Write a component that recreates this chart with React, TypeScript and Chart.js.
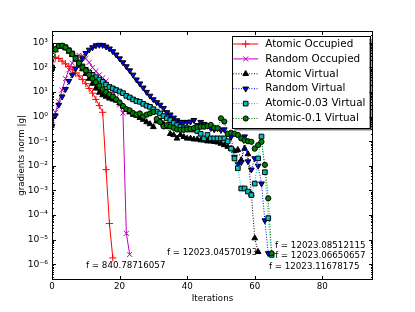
import React, { useEffect, useRef } from "react";
import { Chart, registerables } from "chart.js";

Chart.register(...registerables);

// ---- data (iteration index = array index) ----
const atomicOccupied = [170, 260, 230, 180, 140, 110, 80, 60, 45, 32, 22, 14, 9, 5, 2.8, 1.5, 0.007, 4.5e-5, 1.8e-6];
const randomOccupied = [0.45, 1.5, 4, 12, 35, 80, 150, 240, 310, 300, 230, 160, 100, 70, 50, 38, 28, 17, 10, 6, 3, 1.4, 1.8e-5, 2.5e-6];
const atomicVirtual = [
  90, 500, 700, 720, 600, 440, 320, 210, 135, 85,
  55, 35, 22, 14, 9.5, 7.5, 6.5, 5.5, 5, 4.5,
  3.5, 2.6, 1.9, 1.5, 1.2, 1.1, 0.9, 0.75, 0.6, 0.5,
  0.38, 0.65, 0.65, 0.5, 0.38, 0.2, 0.18, 0.13, 0.18, 0.15,
  0.13, 0.13, 0.12, 0.12, 0.11, 0.11, 0.1, 0.1, 0.095, 0.09,
  0.08, 0.07, 0.06, 0.05, 0.04, 0.045, 0.017, 0.05, 0.03, 7e-4,
  1.15e-5, 3.2e-6,
];
const randomVirtual = [
  0.4, 1.1, 3, 6.5, 13, 28, 50, 90, 140, 230,
  380, 520, 650, 780, 820, 800, 700, 580, 450, 330,
  230, 160, 110, 75, 50, 32, 22, 15, 10, 7,
  5, 3.8, 3, 2.2, 1.5, 1.2, 0.9, 0.7, 0.6, 0.6,
  0.6, 0.62, 0.72, 0.45, 0.6, 0.5, 0.42, 0.34, 0.3, 0.33,
  0.28, 0.3, 0.2, 0.15, 0.023, 0.012, 0.014, 0.155, 0.015, 0.007,
  0.02, 0.01, 0.0019, 6e-5, 2.8e-6,
];
const atomic003Virtual = [
  100, 550, 750, 760, 660, 500, 370, 250, 160, 110,
  80, 62, 50, 40, 32, 26, 20, 16, 14, 12,
  10.5, 9, 7, 6, 5, 4.3, 4, 3.3, 2.8, 2.5,
  2, 1.6, 1.35, 1.05, 0.85, 0.72, 0.55, 0.45, 0.38, 0.34,
  0.34, 0.3, 0.3, 0.26, 0.2, 0.13, 0.18, 0.13, 0.13, 0.13,
  0.13, 0.13, 0.1, 0.05, 0.02, 0.008, 0.0012, 0.0012, 9e-4, 6.5e-4,
  0.0019, 0.02, 0.155, 0.0055, 7.5e-5, 2.4e-6,
];
const atomic01Virtual = [
  100, 550, 750, 760, 650, 480, 350, 230, 150, 100,
  75, 50, 35, 25, 18, 13, 10, 8, 6.5, 5,
  3.8, 2.7, 2, 1.8, 1.4, 1.2, 1.35, 1.0, 1.2, 1.35,
  1.55, 0.8, 0.6, 0.4, 0.45, 0.4, 0.35, 0.3, 0.29, 0.29,
  0.3, 0.32, 0.34, 0.38, 0.39, 0.39, 0.42, 0.46, 0.35, 0.34,
  0.85, 0.63, 0.2, 0.22, 0.2, 0.18, 0.13, 0.11, 0.1, 0.095,
  0.05, 0.07, 0.095, 0.011, 4.8e-4, 2.8e-6,
];

const seriesNames = [
  "Atomic Occupied",
  "Random Occupied",
  "Atomic Virtual",
  "Random Virtual",
  "Atomic-0.03 Virtual",
  "Atomic-0.1 Virtual",
];
const seriesValues = [atomicOccupied, randomOccupied, atomicVirtual, randomVirtual, atomic003Virtual, atomic01Virtual];

const xTickValues = [0, 20, 40, 60, 80];
const yTickExponents = [-6, -5, -4, -3, -2, -1, 0, 1, 2, 3];

const finalTexts = [
  "f = 840.78716057",
  "f = 12023.04570193",
  "f = 12023.08512115",
  "f = 12023.06650657",
  "f = 12023.11678175",
];
const finalTextIter = [10.06, 34.0, 66.0, 66.0, 64.2];
const finalTextValue = [8.5e-7, 2.95e-6, 5.5e-6, 2.2e-6, 7.8e-7];

// ---- styles ----
const FONT = '"DejaVu Sans", "Liberation Sans", sans-serif';
const styles = [
  { color: "#ff0000", fill: "#ff0000", edge: "#ff0000", point: "cross", r: 3.6, rot: 0, dash: [] as number[] },
  { color: "#bf00bf", fill: "#bf00bf", edge: "#bf00bf", point: "crossRot", r: 3.6, rot: 0, dash: [] as number[] },
  { color: "#000000", fill: "#000000", edge: "#000000", point: "triangle", r: 3.3, rot: 0, dash: [1, 1.6] },
  { color: "#0000ff", fill: "#0000ff", edge: "#000000", point: "triangle", r: 3.3, rot: 180, dash: [1, 1.6] },
  { color: "#00bfbf", fill: "#00bfbf", edge: "#000000", point: "rect", r: 3.3, rot: 0, dash: [1, 1.6] },
  { color: "#008000", fill: "#008000", edge: "#000000", point: "circle", r: 2.6, rot: 0, dash: [1, 1.6] },
];

const SUP: Record<string, string> = {
  "-": "\u207B", "0": "\u2070", "1": "\u00B9", "2": "\u00B2", "3": "\u00B3",
  "4": "\u2074", "5": "\u2075", "6": "\u2076", "7": "\u2077", "8": "\u2078", "9": "\u2079",
};
const sup = (n: number) => String(n).split("").map((c) => SUP[c] || c).join("");

function drawMarker(ctx: CanvasRenderingContext2D, s: any, x: number, y: number) {
  const r = s.r;
  ctx.save();
  ctx.setLineDash([]);
  ctx.lineWidth = 1;
  ctx.strokeStyle = s.edge;
  ctx.fillStyle = s.fill;
  ctx.beginPath();
  if (s.point === "cross") {
    ctx.moveTo(x - r, y); ctx.lineTo(x + r, y);
    ctx.moveTo(x, y - r); ctx.lineTo(x, y + r);
    ctx.stroke();
  } else if (s.point === "crossRot") {
    const d = r * Math.SQRT1_2;
    ctx.moveTo(x - d, y - d); ctx.lineTo(x + d, y + d);
    ctx.moveTo(x + d, y - d); ctx.lineTo(x - d, y + d);
    ctx.stroke();
  } else if (s.point === "triangle") {
    const sgn = s.rot === 180 ? -1 : 1;
    ctx.moveTo(x, y - sgn * r);
    ctx.lineTo(x + r * 0.866, y + sgn * r * 0.5);
    ctx.lineTo(x - r * 0.866, y + sgn * r * 0.5);
    ctx.closePath();
    ctx.fill(); ctx.stroke();
  } else if (s.point === "rect") {
    const d = r * Math.SQRT1_2;
    ctx.rect(x - d, y - d, 2 * d, 2 * d);
    ctx.fill(); ctx.stroke();
  } else {
    ctx.arc(x, y, r, 0, Math.PI * 2);
    ctx.fill(); ctx.stroke();
  }
  ctx.restore();
}

const overlayPlugin = {
  id: "overlay",
  afterDatasetsDraw(chart: any) {
    const ctx: CanvasRenderingContext2D = chart.ctx;
    const { left, right, top, bottom } = chart.chartArea;
    const xs = chart.scales.x;
    const ys = chart.scales.y;
    ctx.save();
    ctx.strokeStyle = "#000";
    ctx.lineWidth = 1;
    ctx.setLineDash([]);
    ctx.strokeRect(left + 0.5, top + 0.5, right - left - 1, bottom - top - 1);
    ctx.beginPath();
    xTickValues.forEach((v) => {
      const px = Math.round(xs.getPixelForValue(v)) + 0.5;
      ctx.moveTo(px, bottom); ctx.lineTo(px, bottom - 4);
      ctx.moveTo(px, top); ctx.lineTo(px, top + 4);
    });
    const yMin = ys.min, yMax = ys.max;
    for (let e = -8; e <= 4; e++) {
      for (let m = 1; m <= 9; m++) {
        const v = m * Math.pow(10, e);
        if (v < yMin || v > yMax) continue;
        const py = Math.round(ys.getPixelForValue(v)) + 0.5;
        const len = m === 1 ? 4 : 2;
        ctx.moveTo(left, py); ctx.lineTo(left + len, py);
        ctx.moveTo(right, py); ctx.lineTo(right - len, py);
      }
    }
    ctx.stroke();

    // final-value annotations
    ctx.fillStyle = "#000";
    ctx.font = `8.7px ${FONT}`;
    ctx.textAlign = "left";
    ctx.textBaseline = "middle";
    finalTexts.forEach((t, i) => {
      ctx.fillText(t, xs.getPixelForValue(finalTextIter[i]), ys.getPixelForValue(finalTextValue[i]));
    });
    ctx.restore();
  },
  afterDraw(chart: any) {
    const ctx: CanvasRenderingContext2D = chart.ctx;
    const { right, top } = chart.chartArea;
    const w = 137.6, h = 92;
    const bx = right - 3.7 - w;
    const by = top + 5;
    ctx.save();
    ctx.fillStyle = "rgba(0,0,0,0.5)";
    ctx.fillRect(bx + 2.5, by + 2.5, w, h);
    ctx.fillStyle = "#fff";
    ctx.fillRect(bx, by, w, h);
    ctx.strokeStyle = "#000";
    ctx.lineWidth = 1;
    ctx.strokeRect(Math.round(bx) + 0.5, Math.round(by) + 0.5, Math.round(w), Math.round(h));
    ctx.font = `10.4px ${FONT}`;
    ctx.textAlign = "left";
    ctx.textBaseline = "middle";
    seriesNames.forEach((name, i) => {
      const s = styles[i];
      const y = by + 8 + i * 14.9;
      ctx.save();
      ctx.strokeStyle = s.color;
      ctx.lineWidth = 1;
      ctx.setLineDash(s.dash);
      ctx.beginPath();
      ctx.moveTo(bx + 1.5, y); ctx.lineTo(bx + 26.5, y);
      ctx.stroke();
      ctx.restore();
      drawMarker(ctx, s, bx + 14, y);
      ctx.fillStyle = "#000";
      ctx.fillText(name, bx + 33.5, y);
    });
    ctx.restore();
  },
};

export default function App() {
  const ref = useRef<HTMLCanvasElement | null>(null);
  useEffect(() => {
    if (!ref.current) return;
    const datasets = seriesValues.map((vals, i) => {
      const s = styles[i];
      return {
        label: seriesNames[i],
        data: vals.map((y, x) => ({ x, y })),
        borderColor: s.color,
        backgroundColor: s.fill,
        borderWidth: 1,
        borderDash: s.dash,
        pointStyle: s.point,
        pointRadius: s.r,
        pointRotation: s.rot,
        pointBorderColor: s.edge,
        pointBackgroundColor: s.fill,
        pointBorderWidth: 1,
        tension: 0,
        fill: false,
        order: seriesValues.length - i,
      };
    });
    const chart = new Chart(ref.current, {
      type: "line",
      data: { datasets },
      plugins: [overlayPlugin],
      options: {
        animation: false,
        responsive: false,
        devicePixelRatio: 1,
        events: [],
        layout: { padding: { left: 0, right: 42, top: 31, bottom: 0 } },
        plugins: { legend: { display: false }, tooltip: { enabled: false } },
        scales: {
          x: {
            type: "linear",
            min: 0,
            max: 95,
            grid: { display: false, drawTicks: false },
            border: { display: false },
            afterBuildTicks: (scale: any) => {
              scale.ticks = xTickValues.map((v) => ({ value: v }));
            },
            afterFit: (scale: any) => {
              scale.height = 32;
            },
            ticks: {
              color: "#000",
              padding: 2,
              maxRotation: 0,
              autoSkip: false,
              font: { family: FONT, size: 8.7 },
              callback: (v: any) => String(v),
            },
            title: {
              display: true,
              text: "Iterations",
              color: "#000",
              font: { family: FONT, size: 8.7 },
              padding: { top: 0, bottom: 7.8 },
            },
          },
          y: {
            type: "logarithmic",
            min: Math.pow(10, -6.64),
            max: Math.pow(10, 3.48),
            grid: { display: false, drawTicks: false },
            border: { display: false },
            afterBuildTicks: (scale: any) => {
              scale.ticks = yTickExponents.map((e) => ({ value: Math.pow(10, e) }));
            },
            afterFit: (scale: any) => {
              scale.width = 52;
            },
            ticks: {
              color: "#000",
              padding: 4,
              autoSkip: false,
              font: { family: FONT, size: 9.2 },
              callback: (v: any) => "10" + sup(Math.round(Math.log10(Number(v)))),
            },
            title: {
              display: true,
              text: "gradients norm |g|",
              color: "#000",
              font: { family: FONT, size: 8.7 },
              padding: { top: 16.5, bottom: 0 },
            },
          },
        },
      } as any,
    });
    return () => chart.destroy();
  }, []);
  return (
    <div style={{ position: "absolute", left: 0, top: 0, width: 415, height: 312, background: "#fff" }}>
      <canvas ref={ref} width={415} height={312} style={{ width: 415, height: 312, display: "block" }} />
    </div>
  );
}
